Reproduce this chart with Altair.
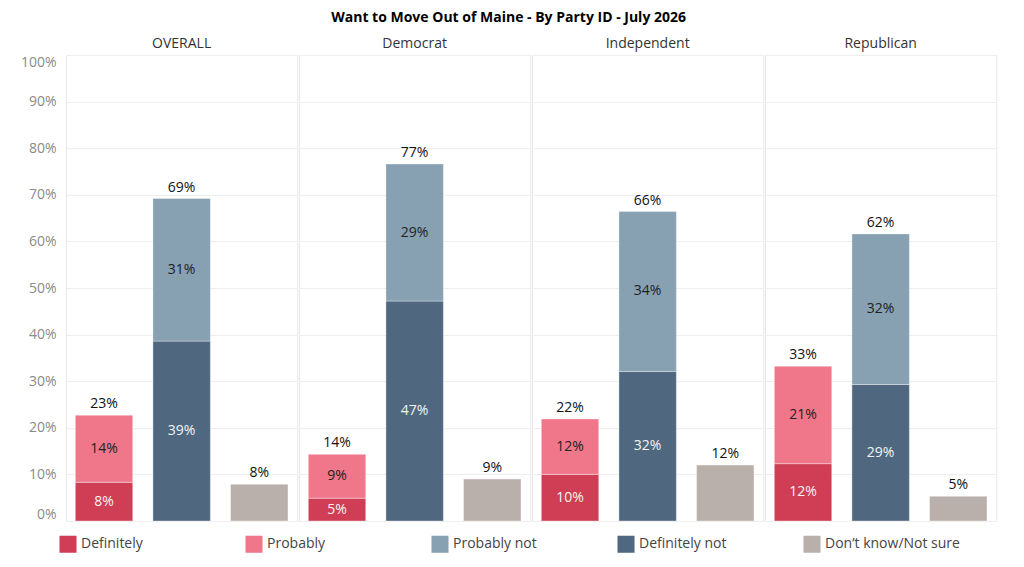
import altair as alt
import pandas as pd

panels = ["OVERALL", "Democrat", "Independent", "Republican"]
definitely = [8.3, 4.9, 10.0, 12.3]
probably = [14.4, 9.4, 11.9, 20.9]
definitely_not = [38.6, 47.2, 32.1, 29.3]
probably_not = [30.6, 29.4, 34.3, 32.3]
dont_know = [7.9, 9.0, 12.0, 5.3]

responses = ["Definitely", "Probably", "Probably not", "Definitely not", "Don\u2019t know/Not sure"]
colors = ["#d03e55", "#f07789", "#87a0b2", "#4f687f", "#b9b0ab"]
groups = ["Move", "Stay", "Unsure"]
title_text = "Want to Move Out of Maine - By Party ID - July 2026"

rows = []
for i, p in enumerate(panels):
    rows.append(dict(panel=p, group="Move", response=responses[0], value=definitely[i], order=0, tcol="#f4f4f4"))
    rows.append(dict(panel=p, group="Move", response=responses[1], value=probably[i], order=1, tcol="#222222"))
    rows.append(dict(panel=p, group="Stay", response=responses[3], value=definitely_not[i], order=0, tcol="#f4f4f4"))
    rows.append(dict(panel=p, group="Stay", response=responses[2], value=probably_not[i], order=1, tcol="#222222"))
    rows.append(dict(panel=p, group="Unsure", response=responses[4], value=dont_know[i], order=0, tcol="#222222"))
df = pd.DataFrame(rows)

FONT = "Open Sans"

xenc = alt.X("group:N", sort=groups, axis=None,
             scale=alt.Scale(paddingInner=0.26, paddingOuter=0.12))
yscale = alt.Scale(domain=[0, 100], nice=False)

bars = alt.Chart().mark_bar(stroke="#ffffff", strokeWidth=0.8, strokeOpacity=0.45).encode(
    x=xenc,
    y=alt.Y("value:Q", stack="zero", scale=yscale, title=None,
            axis=alt.Axis(values=list(range(0, 101, 10)), labelExpr="datum.value + '%'",
                          labelFlush=True, labelColor="#8a8a8a", labelFontSize=14,
                          labelPadding=9, ticks=False, domain=False,
                          gridColor="#eeeeee", labelFont=FONT)),
    color=alt.Color("response:N", scale=alt.Scale(domain=responses, range=colors),
                    legend=alt.Legend(title=None)),
    order=alt.Order("order:Q"),
)

seg = alt.Chart().transform_filter(
    "datum.group != 'Unsure'"
).transform_stack(
    stack="value", groupby=["panel", "group"], sort=[alt.SortField("order")], as_=["v0", "v1"]
).transform_calculate(
    mid="(datum.v0 + datum.v1) / 2", lab="format(datum.value, '.0f') + '%'"
).mark_text(fontSize=14, font=FONT).encode(
    x=xenc,
    y=alt.Y("mid:Q", scale=yscale),
    text="lab:N",
    color=alt.Color("tcol:N", scale=None),
)

tot = alt.Chart().transform_aggregate(
    total="sum(value)", groupby=["panel", "group"]
).transform_calculate(
    lab="format(datum.total, '.0f') + '%'"
).mark_text(fontSize=14, dy=-11, color="#111111", font=FONT).encode(
    x=xenc,
    y=alt.Y("total:Q", scale=yscale),
    text="lab:N",
)

chart = alt.layer(bars, seg, tot, data=df).properties(
    width=231.3, height=466
).facet(
    column=alt.Column("panel:N", sort=panels, title=None,
                      header=alt.Header(labelFontSize=14, labelColor="#333333",
                                        labelPadding=3, labelFont=FONT)),
    spacing=0,
).properties(
    title=alt.TitleParams(title_text, fontSize=14, fontWeight="bold", color="#000000",
                          anchor="middle", font=FONT, offset=12),
    padding={"left": 12, "top": 3, "right": 5, "bottom": 2},
).configure_view(
    stroke="#e8e8e8"
).configure_legend(
    orient="none", legendX=-7, legendY=480,
    direction="horizontal", columns=5, symbolType="square",
    symbolSize=290, symbolStrokeWidth=0, labelFontSize=14, labelColor="#444444",
    labelFont=FONT, gridAlign="all", columnPadding=29
)

chart.save("out.html", embed_options={"renderer": "svg", "actions": False})
